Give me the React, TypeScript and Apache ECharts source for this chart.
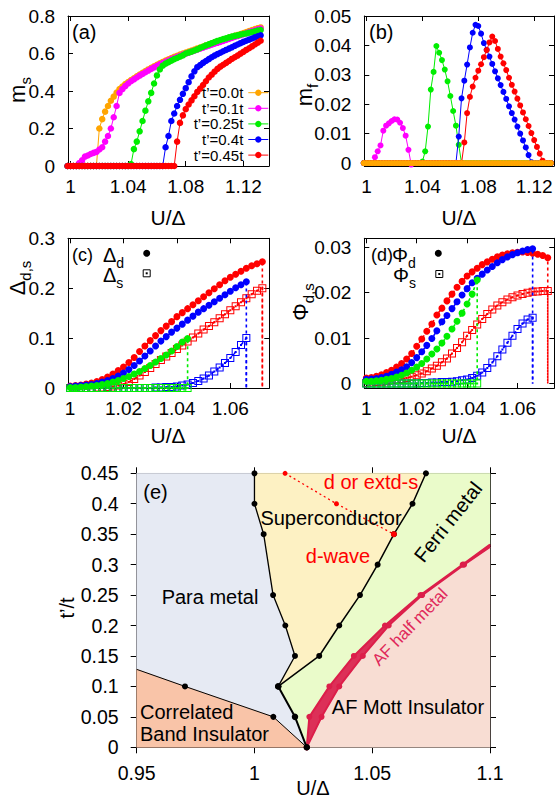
import React, { useEffect, useRef } from "react";
import * as echarts from "echarts";

const FONT = '"Liberation Sans", Arial, Helvetica, sans-serif';

// ---------- colours of the five t' values ----------
const COLOR_T00 = "#ffa500";
const COLOR_T01 = "#ff00ff";
const COLOR_T025 = "#00ee00";
const COLOR_T04 = "#0000ff";
const COLOR_T045 = "#ff0000";

const LEGEND_A = ["t’=0.0t", "t’=0.1t", "t’=0.25t", "t’=0.4t", "t’=0.45t"];

// ---------- tick values ----------
const X_TICKS_AB = [1, 1.04, 1.08, 1.12];
const Y_TICKS_A = [0, 0.2, 0.4, 0.6, 0.8];
const Y_TICKS_B = [0, 0.01, 0.02, 0.03, 0.04, 0.05];
const X_TICKS_CD = [1, 1.02, 1.04, 1.06];
const Y_TICKS_C = [0, 0.1, 0.2, 0.3];
const Y_TICKS_D = [0, 0.01, 0.02, 0.03];
const X_TICKS_E = [0.95, 1, 1.05, 1.1];
const Y_TICKS_E = [0, 0.05, 0.1, 0.15, 0.2, 0.25, 0.3, 0.35, 0.4, 0.45];

// ---------- panels (a), (b): U/Delta samples ----------
const U_AB = [
  0.998, 1, 1.002, 1.004, 1.006, 1.008, 1.01, 1.012, 1.014, 1.016, 1.018, 1.02, 1.022, 1.024, 1.026, 1.028, 1.03,
  1.032, 1.034, 1.036, 1.038, 1.04, 1.042, 1.044, 1.046, 1.048, 1.05, 1.052, 1.054, 1.056, 1.058, 1.06, 1.062,
  1.064, 1.066, 1.068, 1.07, 1.072, 1.074, 1.076, 1.078, 1.08, 1.082, 1.084, 1.086, 1.088, 1.09, 1.092, 1.094,
  1.096, 1.098, 1.1, 1.102, 1.104, 1.106, 1.108, 1.11, 1.112, 1.114, 1.116, 1.118, 1.12, 1.122, 1.124, 1.126,
  1.128, 1.13, 1.132,
];

// m_s (panel a)
const MS_T00 = [
  0, 0, 0, 0, 0, 0, 0, 0, 0, 0, 0,
  0.2, 0.25, 0.29, 0.32, 0.348, 0.37, 0.392, 0.41, 0.424, 0.437,
  0.448, 0.458, 0.468, 0.478, 0.488, 0.497, 0.506, 0.515, 0.524, 0.532,
  0.54, 0.548, 0.555, 0.562, 0.569, 0.576, 0.582, 0.588, 0.594, 0.6,
  0.605, 0.61, 0.616, 0.621, 0.627, 0.632, 0.637, 0.643, 0.648, 0.653,
  0.658, 0.663, 0.668, 0.673, 0.678, 0.684, 0.689, 0.694, 0.699, 0.704,
  0.709, 0.714, 0.72, 0.725, 0.73, 0.735, 0.739,
];
const MS_T01 = [
  0, 0, 0, 0,
  0.015, 0.03, 0.05, 0.056, 0.064, 0.07, 0.075, 0.088, 0.1, 0.13, 0.16, 0.2, 0.26, 0.32, 0.39, 0.41, 0.426, 0.44,
  0.452, 0.462, 0.472, 0.482, 0.491, 0.5, 0.509, 0.518, 0.526, 0.534,
  0.542, 0.549, 0.556, 0.563, 0.57, 0.576, 0.582, 0.588, 0.594, 0.599,
  0.604, 0.61, 0.615, 0.621, 0.626, 0.631, 0.637, 0.642, 0.647, 0.652,
  0.657, 0.662, 0.667, 0.672, 0.678, 0.683, 0.688, 0.693, 0.698, 0.703,
  0.708, 0.714, 0.719, 0.724, 0.729, 0.733,
];
const MS_T025 = [
  0, 0, 0, 0, 0, 0, 0, 0, 0, 0, 0, 0, 0, 0, 0, 0, 0, 0, 0, 0, 0, 0,
  0.01, 0.09, 0.13, 0.185, 0.24, 0.295, 0.345, 0.39, 0.44, 0.483,
  0.515, 0.535, 0.546, 0.554, 0.562, 0.57, 0.576, 0.583, 0.59, 0.6,
  0.605, 0.61, 0.616, 0.622, 0.63, 0.636, 0.643, 0.649, 0.655, 0.661,
  0.667, 0.672, 0.677, 0.681, 0.686, 0.69, 0.694, 0.697, 0.701, 0.704,
  0.707, 0.711, 0.714, 0.718, 0.722, 0.725,
];
const MS_T04 = [
  0, 0, 0, 0, 0, 0, 0, 0, 0, 0, 0, 0, 0, 0, 0, 0, 0, 0, 0, 0, 0, 0, 0, 0, 0, 0, 0, 0, 0, 0, 0, 0, 0, 0,
  0.1, 0.16, 0.24, 0.28, 0.32, 0.353, 0.385, 0.415, 0.447, 0.478,
  0.505, 0.527, 0.538, 0.55, 0.56, 0.57, 0.58, 0.589, 0.597, 0.604,
  0.612, 0.619, 0.626, 0.633, 0.641, 0.648, 0.655, 0.662, 0.668, 0.674,
  0.68, 0.686, 0.692, 0.697,
];
const MS_T045 = [
  0, 0, 0, 0, 0, 0, 0, 0, 0, 0, 0, 0, 0, 0, 0, 0, 0, 0, 0, 0, 0, 0, 0, 0, 0, 0, 0, 0, 0, 0, 0, 0, 0, 0, 0, 0, 0, 0,
  0.13, 0.23, 0.27, 0.303, 0.328, 0.35, 0.372, 0.395, 0.413, 0.432,
  0.452, 0.472, 0.487, 0.503, 0.518, 0.53, 0.54, 0.55, 0.56, 0.571,
  0.58, 0.589, 0.599, 0.609, 0.619, 0.628, 0.638, 0.648, 0.658, 0.668,
];

// m_f (panel b)
const MF_T00 = [
  0, 0, 0, 0, 0, 0, 0, 0, 0, 0, 0, 0, 0, 0, 0, 0, 0, 0, 0, 0, 0, 0, 0, 0, 0, 0, 0, 0, 0, 0, 0, 0, 0, 0,
  0, 0, 0, 0, 0, 0, 0, 0, 0, 0, 0, 0, 0, 0, 0, 0, 0, 0, 0, 0, 0, 0, 0, 0, 0, 0, 0, 0, 0, 0, 0, 0, 0, 0,
];
const MF_T01 = [
  0, 0, 0, 0,
  0.002, 0.004, 0.006, 0.011, 0.0127, 0.0135, 0.0143, 0.0149, 0.0148, 0.0137, 0.0119, 0.0093, 0.0045, -0.0005,
  0, 0, 0, 0, 0, 0, 0, 0, 0, 0, 0, 0, 0, 0, 0, 0, 0, 0, 0, 0, 0, 0, 0, 0, 0, 0, 0, 0, 0, 0,
  0, 0, 0, 0, 0, 0, 0, 0, 0, 0, 0, 0, 0, 0, 0, 0, 0, 0, 0, 0, 0, 0, 0, 0, 0, 0,
];
const MF_T025 = [
  0, 0, 0, 0, 0, 0, 0, 0, 0, 0, 0, 0, 0, 0, 0, 0, 0, 0, 0, 0, 0,
  0.0005, 0.004, 0.0124, 0.025, 0.031, 0.0398, 0.0375, 0.035, 0.0318, 0.0278, 0.0228, 0.0177, 0.0127, 0.0062, 0,
  0, 0, 0, 0, 0, 0, 0, 0, 0, 0, 0, 0, 0, 0, 0, 0, 0, 0, 0, 0, 0, 0, 0, 0, 0, 0, 0, 0, 0, 0, 0, 0,
];
const MF_T04 = [
  0, 0, 0, 0, 0, 0, 0, 0, 0, 0, 0, 0, 0, 0, 0, 0, 0, 0, 0, 0, 0, 0, 0, 0, 0, 0, 0, 0, 0, 0, 0, 0, 0,
  0, 0.009, 0.022, 0.028, 0.0335, 0.0393, 0.0443, 0.047, 0.0466, 0.044,
  0.0408, 0.0385, 0.0362, 0.0337, 0.0312, 0.0288, 0.0265, 0.0242, 0.0218, 0.0193,
  0.017, 0.0148, 0.0124, 0.01, 0.0077, 0.0053, 0.0027, 0.0003,
  0, 0, 0, 0, 0, 0, 0,
];
const MF_T045 = [
  0, 0, 0, 0, 0, 0, 0, 0, 0, 0, 0, 0, 0, 0, 0, 0, 0, 0, 0, 0, 0, 0, 0, 0, 0, 0, 0, 0, 0, 0, 0, 0, 0, 0, 0,
  0, 0.007, 0.017, 0.0225, 0.026, 0.029, 0.0314, 0.0336, 0.036, 0.0384,
  0.041, 0.043, 0.0415, 0.0388, 0.0362, 0.0339, 0.0316, 0.029, 0.0266, 0.0243,
  0.0219, 0.0196, 0.0172, 0.0149, 0.0126, 0.0102, 0.0078, 0.0055, 0.0032, 0.0008, 0,
  0, 0,
];

// ---------- panels (c), (d): U/Delta samples ----------
const U_CD = [
  1, 1.002, 1.004, 1.006, 1.008, 1.01, 1.012, 1.014, 1.016, 1.018, 1.02, 1.022, 1.024, 1.026, 1.028, 1.03, 1.032,
  1.034, 1.036, 1.038, 1.04, 1.042, 1.044, 1.046, 1.048, 1.05, 1.052, 1.054, 1.056, 1.058, 1.06, 1.062, 1.064,
  1.066, 1.068, 1.07, 1.072,
];
// Delta_d / Delta_s (panel c)
const DD_T025 = [
  0.001, 0.001, 0.002, 0.003, 0.004, 0.005, 0.007, 0.009, 0.012, 0.015, 0.019, 0.023, 0.028, 0.033, 0.039,
  0.045, 0.052, 0.059, 0.066, 0.074, 0.083, 0.092, 0.099,
  null, null, null, null, null, null, null, null, null, null, null, null, null, null,
];
const DD_T04 = [
  0.003, 0.004, 0.005, 0.006, 0.007, 0.009, 0.012, 0.015, 0.019, 0.024, 0.03, 0.037, 0.045, 0.054, 0.064,
  0.074, 0.084, 0.094, 0.103, 0.112, 0.12, 0.128, 0.136, 0.144, 0.152, 0.159, 0.166, 0.173, 0.18, 0.187,
  0.194, 0.201, 0.207, 0.213, null, null, null,
];
const DD_T045 = [
  0.004, 0.005, 0.006, 0.008, 0.01, 0.013, 0.017, 0.022, 0.028, 0.035, 0.042, 0.051, 0.061, 0.073, 0.084,
  0.095, 0.105, 0.115, 0.124, 0.133, 0.143, 0.151, 0.159, 0.167, 0.175, 0.183, 0.191, 0.199, 0.207, 0.215,
  0.222, 0.228, 0.234, 0.24, 0.245, 0.249, 0.253,
];
const DS_T025 = [
  0, 0, 0, 0, 0, 0, 0, 0, 0, 0, 0, 0, 0, 0, 0, 0, 0, 0, 0, 0, 0, 0, 0,
  null, null, null, null, null, null, null, null, null, null, null, null, null, null,
];
const DS_T04 = [
  0, 0, 0, 0, 0, 0, 0, 0, 0, 0, 0, 0, 0, 0, 0, 0,
  0.001, 0.001, 0.002, 0.002, 0.003, 0.005, 0.007, 0.01, 0.014, 0.019, 0.025, 0.033, 0.041, 0.05, 0.06,
  0.072, 0.086, 0.1, null, null, null,
];
const DS_T045 = [
  0, 0, 0, 0, 0, 0.001, 0.001, 0.002, 0.003, 0.005, 0.008, 0.012, 0.018, 0.025, 0.032, 0.04, 0.048, 0.056,
  0.063, 0.07, 0.078, 0.085, 0.093, 0.101, 0.109, 0.117, 0.124, 0.132, 0.14, 0.148, 0.156, 0.164, 0.172,
  0.18, 0.188, 0.195, 0.2,
];
// Phi_d / Phi_s (panel d)
const PD_T025 = [
  0.0005, 0.0005, 0.0006, 0.0007, 0.0009, 0.0011, 0.0014, 0.0018, 0.0023, 0.0029, 0.0036, 0.0044, 0.0054,
  0.0065, 0.0076, 0.0089, 0.0104, 0.012, 0.0137, 0.0155, 0.0175, 0.0197, 0.0228,
  null, null, null, null, null, null, null, null, null, null, null, null, null, null,
];
const PD_T04 = [
  0.0009, 0.001, 0.0011, 0.0013, 0.0016, 0.002, 0.0025, 0.003, 0.0037, 0.0046, 0.0057, 0.007, 0.0084, 0.0099,
  0.0116, 0.0136, 0.015, 0.0165, 0.018, 0.0195, 0.0209, 0.0222, 0.0232, 0.0241, 0.025, 0.0258, 0.0266,
  0.0273, 0.0279, 0.0284, 0.0288, 0.0292, 0.0295, 0.0297, null, null, null,
];
const PD_T045 = [
  0.0012, 0.0013, 0.0016, 0.0019, 0.0024, 0.0029, 0.0036, 0.0044, 0.0054, 0.0066, 0.0082, 0.0098, 0.0115,
  0.0131, 0.0151, 0.0166, 0.0182, 0.0197, 0.0212, 0.0225, 0.0237, 0.0246, 0.0254, 0.0262, 0.0268, 0.0274,
  0.0279, 0.0283, 0.0286, 0.0288, 0.0289, 0.029, 0.0289, 0.0287, 0.0285, 0.0282, 0.0277,
];
const PS_T025 = [
  0, 0, 0, 0, 0, 0, 0, 0, 0, 0, 0, 0, 0, 0, 0, 0, 0, 0, 0, 0, 0, 0, 0,
  null, null, null, null, null, null, null, null, null, null, null, null, null, null,
];
const PS_T04 = [
  0, 0, 0, 0, 0, 0, 0, 0, 0, 0, 0,
  0.0001, 0.0001, 0.0002, 0.0002, 0.0003, 0.0003, 0.0004, 0.0005, 0.0007, 0.0009, 0.0012, 0.0017, 0.0024,
  0.0034, 0.0046, 0.006, 0.0075, 0.009, 0.0105, 0.012, 0.0132, 0.0141, 0.0145, null, null, null,
];
const PS_T045 = [
  0.0001, 0.0002, 0.0003, 0.0004, 0.0005, 0.0007, 0.0008, 0.001, 0.0012, 0.0015, 0.0018, 0.0022, 0.0027,
  0.0033, 0.0039, 0.0047, 0.0055, 0.0066, 0.0078, 0.0091, 0.0105, 0.0118, 0.013, 0.0142, 0.0153, 0.0163,
  0.0172, 0.0179, 0.0185, 0.019, 0.0194, 0.0197, 0.02, 0.0202, 0.0203, 0.0204, 0.0204,
];

// ---------- panel (e): phase boundaries [U/Delta, t'/t] ----------
const PARA_SC_LINE = [[1.0, 0.45], [1.0, 0.4], [1.0039, 0.35], [1.0079, 0.25], [1.0131, 0.2], [1.0172, 0.15], [1.0101, 0.1]];
const SC_FERRI_LINE = [[1.0728, 0.45], [1.0671, 0.4], [1.0592, 0.35], [1.0523, 0.3], [1.0448, 0.25], [1.036, 0.2], [1.0275, 0.15], [1.0101, 0.1]];
const PARA_FERRI_LINE = [[1.0101, 0.1], [1.0172, 0.05], [1.0222, 0]];
const CBI_LINE = [[0.95, 0.128], [0.9705, 0.1], [1.008, 0.05], [1.0222, 0]];
const AFH_UPPER = [[1.0222, 0], [1.0233, 0.05], [1.0318, 0.1], [1.0422, 0.15], [1.0554, 0.2], [1.0705, 0.25], [1.0884, 0.3], [1.1, 0.333]];
const AFH_LOWER = [[1.0222, 0], [1.0285, 0.05], [1.036, 0.1], [1.046, 0.15], [1.057, 0.2], [1.0712, 0.25], [1.089, 0.3], [1.1, 0.329]];
const PAIRING_LINE = [[1.013, 0.45], [1.0348, 0.4], [1.0592, 0.35]];

const REGION_COLORS = {
  para: "#e6eaf3",
  cbi: "#f9c4a8",
  sc: "#fdf1c3",
  ferri: "#eafbca",
  afm: "#f8ddd3",
  afh: "#dc3058",
};

// ---------- helpers ----------
const fmt = (v: number) => String(Math.round(v * 10000) / 10000);

function pts(u: number[], v: (number | null)[]) {
  const out: number[][] = [];
  for (let i = 0; i < u.length; i++) {
    const y = v[i];
    if (y !== null && y !== undefined) out.push([u[i], y]);
  }
  return out;
}

function axis(gi: number, min: number, max: number, ticks: number[], pos: string, showLabel: boolean, margin: number, fontSize: number, inside: boolean, tickLen: number) {
  return {
    type: "value",
    gridIndex: gi,
    min,
    max,
    position: pos,
    axisLine: { show: true, onZero: false, lineStyle: { color: "#000", width: 1 } },
    axisTick: { show: true, inside, length: tickLen, customValues: ticks, lineStyle: { color: "#000", width: 1 } },
    axisLabel: {
      show: showLabel,
      customValues: ticks,
      margin,
      fontSize,
      fontFamily: FONT,
      color: "#000",
      formatter: fmt,
      hideOverlap: false,
    },
    splitLine: { show: false },
  };
}

function dots(name: string, gi: number, u: number[], v: (number | null)[], color: string, size: number, z: number) {
  return {
    name,
    type: "line",
    xAxisIndex: gi,
    yAxisIndex: gi,
    data: pts(u, v),
    symbol: "circle",
    symbolSize: size,
    showSymbol: true,
    showAllSymbol: true,
    clip: false,
    z,
    silent: true,
    itemStyle: { color },
    lineStyle: { color, width: 1 },
  };
}

const SQUARE = "path://M0 0H8V8H0Z M1 1V7H7V1Z M3 3H5V5H3Z";

function order(name: string, gi: number, u: number[], v: (number | null)[], color: string, symbol: string, size: number, z: number) {
  const d: any[] = pts(u, v);
  const last = d[d.length - 1];
  d.push({ value: [last[0], 0], symbol: "none" });
  return {
    name,
    type: "line",
    xAxisIndex: gi,
    yAxisIndex: gi,
    data: d,
    symbol,
    symbolSize: size,
    showSymbol: true,
    showAllSymbol: true,
    clip: false,
    z,
    silent: true,
    itemStyle: { color },
    lineStyle: { color, width: 1.6, type: [3, 3] },
  };
}

function boundary(name: string, data: number[][], color: string, width: number, size: number, z: number, noDot: number[] = [], type: any = "solid") {
  return {
    name,
    type: "line",
    xAxisIndex: 4,
    yAxisIndex: 4,
    data: data.map((p, i) => (noDot.includes(i) ? { value: p, symbol: "none" } : p)),
    symbol: "circle",
    symbolSize: size,
    showSymbol: true,
    showAllSymbol: true,
    clip: false,
    z,
    silent: true,
    itemStyle: { color },
    lineStyle: { color, width, type },
  };
}

function txt(text: string, x: number, y: number, o: any = {}) {
  return {
    type: "text",
    x,
    y,
    z: 100,
    rotation: o.rotation || 0,
    silent: true,
    style: {
      text,
      fill: o.color || "#000",
      fontSize: o.size || 20,
      fontFamily: FONT,
      textAlign: o.align || "center",
      textVerticalAlign: "middle",
    },
  };
}

function subTxt(main: string, sub: string, x: number, y: number, size: number, subSize: number, o: any = {}) {
  const lh = Math.round(size * 1.45);
  return {
    type: "text",
    x,
    y,
    z: 100,
    rotation: o.rotation || 0,
    silent: true,
    style: {
      text: `{m|${main}}{s|${sub}}`,
      fill: "#000",
      textAlign: o.align || "center",
      textVerticalAlign: "middle",
      rich: {
        m: { fontSize: size, fontFamily: FONT, lineHeight: lh, fill: "#000" },
        s: { fontSize: subSize, fontFamily: FONT, lineHeight: subSize + 2, verticalAlign: "bottom", fill: "#000" },
      },
    },
  };
}

function buildOption() {
  const grids = [
    { left: 68, top: 16, width: 201, height: 150 },
    { left: 364.3, top: 16, width: 189.7, height: 150 },
    { left: 68, top: 238.3, width: 201.3, height: 149.7 },
    { left: 364.3, top: 238.3, width: 190, height: 149.7 },
    { left: 136.7, top: 473.3, width: 353.3, height: 274 },
  ].map((g) => ({ ...g, containLabel: false, show: false }));

  const xr = [
    [0.99826, 1.1378, X_TICKS_AB],
    [0.9984, 1.1342, X_TICKS_AB],
    [0.9992, 1.0746, X_TICKS_CD],
    [0.9992, 1.0746, X_TICKS_CD],
    [0.95, 1.1, X_TICKS_E],
  ] as any[];
  const yr = [
    [0, 0.8, Y_TICKS_A],
    [-0.001, 0.05, Y_TICKS_B],
    [0, 0.3, Y_TICKS_C],
    [-0.001, 0.032, Y_TICKS_D],
    [0, 0.45, Y_TICKS_E],
  ] as any[];

  const xAxis: any[] = [];
  const yAxis: any[] = [];
  for (let g = 0; g < 5; g++) {
    const e = g === 4;
    xAxis.push(axis(g, xr[g][0], xr[g][1], xr[g][2], "bottom", true, e ? 16 : 11, e ? 19.5 : 19, !e, e ? 6 : 5));
    yAxis.push(axis(g, yr[g][0], yr[g][1], yr[g][2], "left", true, e ? 18 : 13, e ? 19.5 : 19, !e, e ? 6 : 5));
  }
  for (let g = 0; g < 5; g++) {
    const e = g === 4;
    xAxis.push(axis(g, xr[g][0], xr[g][1], xr[g][2], "top", false, 8, 19, !e, e ? 6 : 5));
    yAxis.push(axis(g, yr[g][0], yr[g][1], yr[g][2], "right", false, 8, 19, !e, e ? 6 : 5));
  }

  const colorsAB = [COLOR_T00, COLOR_T01, COLOR_T025, COLOR_T04, COLOR_T045];
  const msSets = [MS_T00, MS_T01, MS_T025, MS_T04, MS_T045];
  const mfSets = [MF_T00, MF_T01, MF_T025, MF_T04, MF_T045];

  const series: any[] = [];
  // (a)
  msSets.forEach((s, i) => series.push(dots(LEGEND_A[i] + " m_s", 0, U_AB, s, colorsAB[i], 6.5, 2 + i)));
  // (b) orange drawn last
  [1, 2, 3, 4, 0].forEach((i, k) => series.push(dots(LEGEND_A[i] + " m_f", 1, U_AB, mfSets[i], colorsAB[i], 6, 2 + k)));
  // (c)
  series.push(order("Δs t'=0.45", 2, U_CD, DS_T045, COLOR_T045, SQUARE, 8, 2));
  series.push(order("Δs t'=0.4", 2, U_CD, DS_T04, COLOR_T04, SQUARE, 8, 3));
  series.push(order("Δs t'=0.25", 2, U_CD, DS_T025, COLOR_T025, SQUARE, 8, 4));
  series.push(order("Δd t'=0.45", 2, U_CD, DD_T045, COLOR_T045, "circle", 7, 5));
  series.push(order("Δd t'=0.4", 2, U_CD, DD_T04, COLOR_T04, "circle", 7, 6));
  series.push(order("Δd t'=0.25", 2, U_CD, DD_T025, COLOR_T025, "circle", 7, 7));
  // (d)
  series.push(order("Φs t'=0.45", 3, U_CD, PS_T045, COLOR_T045, SQUARE, 8, 2));
  series.push(order("Φs t'=0.4", 3, U_CD, PS_T04, COLOR_T04, SQUARE, 8, 3));
  series.push(order("Φs t'=0.25", 3, U_CD, PS_T025, COLOR_T025, SQUARE, 8, 4));
  series.push(order("Φd t'=0.45", 3, U_CD, PD_T045, COLOR_T045, "circle", 7, 5));
  series.push(order("Φd t'=0.4", 3, U_CD, PD_T04, COLOR_T04, "circle", 7, 6));
  series.push(order("Φd t'=0.25", 3, U_CD, PD_T025, COLOR_T025, "circle", 7, 7));

  // (e) regions
  const rev = (a: number[][]) => a.slice().reverse();
  const regions = [
    { name: "Para metal", color: REGION_COLORS.para, poly: [[0.95, 0.45], ...PARA_SC_LINE, ...PARA_FERRI_LINE.slice(1), ...rev(CBI_LINE).slice(1)] },
    { name: "Correlated Band Insulator", color: REGION_COLORS.cbi, poly: [...CBI_LINE, [0.95, 0]] },
    { name: "Superconductor", color: REGION_COLORS.sc, poly: [...SC_FERRI_LINE, ...rev(PARA_SC_LINE).slice(1)] },
    { name: "Ferri metal", color: REGION_COLORS.ferri, poly: [[1.1, 0.45], ...SC_FERRI_LINE, ...PARA_FERRI_LINE.slice(1), ...AFH_UPPER.slice(1)] },
    { name: "AF Mott Insulator", color: REGION_COLORS.afm, poly: [...AFH_LOWER, [1.1, 0]] },
    { name: "AF half metal", color: REGION_COLORS.afh, poly: [...AFH_UPPER, ...rev(AFH_LOWER)] },
  ];
  series.push({
    type: "custom",
    name: "phases",
    xAxisIndex: 4,
    yAxisIndex: 4,
    z: 1,
    silent: true,
    clip: false,
    data: regions.map((r) => r.poly[0]),
    renderItem: (params: any, api: any) => {
      const r = regions[params.dataIndex];
      return {
        type: "polygon",
        shape: { points: r.poly.map((p) => api.coord(p)) },
        style: { fill: r.color, stroke: r.color, lineWidth: 0.6 },
      };
    },
  });
  series.push(boundary("AF half metal upper", AFH_UPPER, "#dc1e4a", 2, 6, 3, [7]));
  series.push(boundary("AF half metal lower", AFH_LOWER, "#dc1e4a", 2, 6, 3, [7]));
  series.push(boundary("pairing symmetry", PAIRING_LINE, "#ff0000", 1.3, 5, 4, [], [2, 3]));
  series.push(boundary("CBI boundary", CBI_LINE, "#000", 1, 6, 5, [0]));
  series.push(boundary("Para-SC boundary", PARA_SC_LINE, "#000", 1.3, 6, 5));
  series.push(boundary("SC-Ferri boundary", SC_FERRI_LINE, "#000", 1.5, 6, 5));
  series.push(boundary("Para-Ferri boundary", PARA_FERRI_LINE, "#000", 2, 6.5, 5));
  series.push(boundary("pairing end", [PAIRING_LINE[2]], "#ff0000", 1, 6, 6));

  // ---------- graphic texts ----------
  const g: any[] = [];
  // panel (a)
  g.push(txt("(a)", 72, 32, { align: "left", size: 20 }));
  g.push(subTxt("m", "s", 17, 90, 22, 15, { rotation: Math.PI / 2 }));
  g.push(txt("U/Δ", 168, 217, { size: 21 }));
  LEGEND_A.forEach((name, i) => {
    const y = 92.7 + i * 15.6;
    g.push(txt(name, 243.3, y, { align: "right", size: 15 }));
    g.push({ type: "line", z: 100, silent: true, shape: { x1: 248.3, y1: y, x2: 268.3, y2: y }, style: { stroke: colorsAB[i], lineWidth: 1 } });
    g.push({ type: "circle", z: 101, silent: true, shape: { cx: 258.3, cy: y, r: 3.2 }, style: { fill: colorsAB[i] } });
  });
  // panel (b)
  g.push(txt("(b)", 369, 32, { align: "left", size: 20 }));
  g.push(subTxt("m", "f", 304, 95, 22, 15, { rotation: Math.PI / 2 }));
  g.push(txt("U/Δ", 459, 217, { size: 21 }));
  // panel (c)
  g.push(txt("(c)", 72, 255, { align: "left", size: 18 }));
  g.push(subTxt("Δ", "d", 103, 255, 20, 14, { align: "left" }));
  g.push(subTxt("Δ", "s", 103, 275, 20, 14, { align: "left" }));
  g.push({ type: "circle", z: 100, silent: true, shape: { cx: 146.7, cy: 253.3, r: 3.5 }, style: { fill: "#000" } });
  g.push({ type: "rect", z: 100, silent: true, shape: { x: 143.2, y: 269.8, width: 7, height: 7 }, style: { fill: "none", stroke: "#000", lineWidth: 1 } });
  g.push({ type: "rect", z: 100, silent: true, shape: { x: 145.7, y: 272.3, width: 2, height: 2 }, style: { fill: "#000" } });
  g.push(subTxt("Δ", "d,s", 17, 278, 22, 15, { rotation: Math.PI / 2 }));
  g.push(txt("U/Δ", 168, 435, { size: 21 }));
  // panel (d)
  g.push(txt("(d)", 371, 255, { align: "left", size: 18 }));
  g.push(subTxt("Φ", "d", 392, 255, 20, 14, { align: "left" }));
  g.push(subTxt("Φ", "s", 393, 275, 20, 14, { align: "left" }));
  g.push({ type: "circle", z: 100, silent: true, shape: { cx: 438.3, cy: 253.3, r: 3.5 }, style: { fill: "#000" } });
  g.push({ type: "rect", z: 100, silent: true, shape: { x: 435.8, y: 270.5, width: 7, height: 7 }, style: { fill: "none", stroke: "#000", lineWidth: 1 } });
  g.push({ type: "rect", z: 100, silent: true, shape: { x: 438.3, y: 273, width: 2, height: 2 }, style: { fill: "#000" } });
  g.push(subTxt("Φ", "d,s", 300, 302, 22, 15, { rotation: Math.PI / 2 }));
  g.push(txt("U/Δ", 459, 435, { size: 21 }));
  // panel (e)
  g.push(txt("(e)", 143.3, 491.7, { align: "left", size: 20 }));
  g.push(txt("Para metal", 210, 597, { size: 20 }));
  g.push(txt("Superconductor", 331, 518, { size: 20 }));
  g.push(txt("d or extd-s", 371, 482, { size: 20, color: "#ff0000" }));
  g.push(txt("d-wave", 338, 556, { size: 20, color: "#ff0000" }));
  g.push(txt("Ferri metal", 448, 522, { size: 20, rotation: (51.6 * Math.PI) / 180 }));
  g.push(txt("AF half metal", 410, 627, { size: 17, color: "#e0285a", rotation: (46 * Math.PI) / 180 }));
  g.push(txt("AF Mott Insulator", 408, 707, { size: 20 }));
  g.push(txt("Correlated", 140, 712, { align: "left", size: 20 }));
  g.push(txt("Band Insulator", 140, 734, { align: "left", size: 20 }));
  g.push(txt("t’/t", 67, 608, { size: 20, rotation: Math.PI / 2 }));
  g.push(txt("U/Δ", 313, 788, { size: 20 }));

  return {
    animation: false,
    backgroundColor: "#ffffff",
    textStyle: { fontFamily: FONT },
    grid: grids,
    xAxis,
    yAxis,
    series,
    graphic: { elements: g },
  };
}

export default function App() {
  const ref = useRef<HTMLDivElement>(null);
  useEffect(() => {
    if (!ref.current) return;
    const chart = echarts.init(ref.current, null, { renderer: "svg" });
    chart.setOption(buildOption() as any);
    return () => chart.dispose();
  }, []);
  return (
    <div
      ref={ref}
      style={{ position: "absolute", left: 0, top: 0, width: 556, height: 800, background: "#fff" }}
    />
  );
}
